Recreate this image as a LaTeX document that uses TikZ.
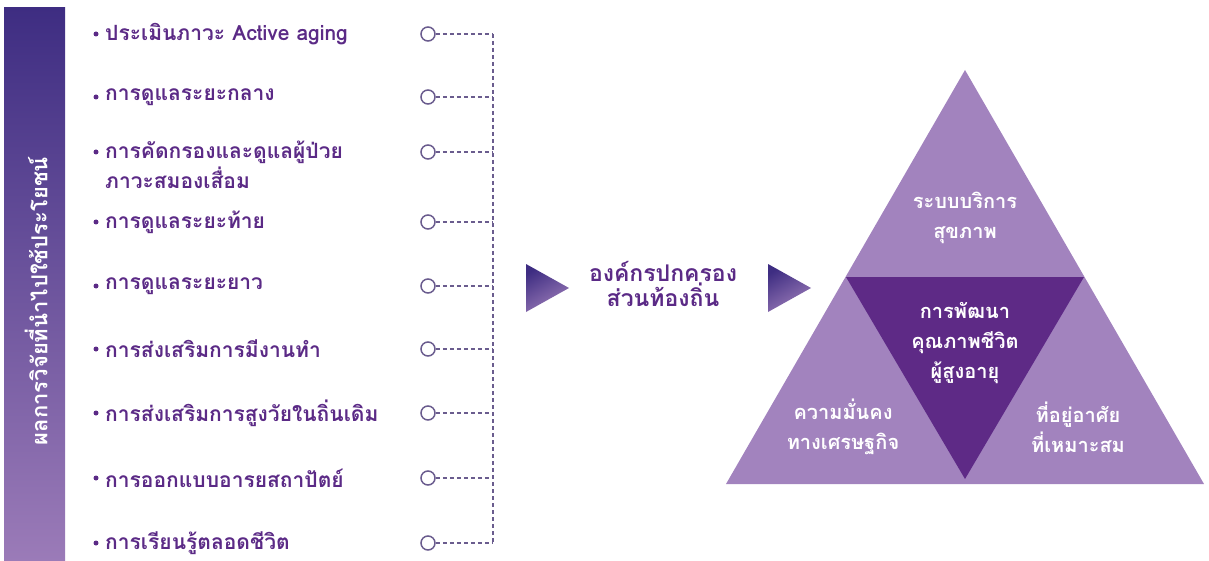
\documentclass[tikz,border=0pt]{standalone}
\usepackage{fontspec}
\newfontfamily\thai[Script=Thai]{Loma}
\usetikzlibrary{calc}
\definecolor{txtpurple}{HTML}{5B2A86}
\definecolor{bartop}{HTML}{3E2D82}
\definecolor{barbot}{HTML}{9B7BB8}
\definecolor{lightpur}{HTML}{A283BE}
\definecolor{darkpur}{HTML}{5E2A86}
\definecolor{dashcol}{HTML}{6A5C8E}
\tikzset{
  item/.style={anchor=west, font=\thai\bfseries\fontsize{21}{25}\selectfont, text=txtpurple, inner sep=0pt, align=left},
  dot/.style={circle, fill=txtpurple, inner sep=0pt, minimum size=5pt},
  ring/.style={circle, draw=dashcol, line width=1.5pt, inner sep=0pt, minimum size=14pt},
  dashc/.style={draw=dashcol, line width=1.2pt, dash pattern=on 4pt off 3pt},
  tri/.style={font=\thai\bfseries\fontsize{20}{30}\selectfont, text=white, align=center, inner sep=0pt},
  mid/.style={font=\thai\bfseries\fontsize{23}{23}\selectfont, text=txtpurple, align=center, inner sep=0pt}
}
\begin{document}
\begin{tikzpicture}[x=1pt,y=-1pt]
\useasboundingbox (0,0) rectangle (1209,561);
% left bar
\shade[top color=bartop, bottom color=barbot] (4,8) rectangle (65,561);
\node[rotate=90, font=\thai\bfseries\fontsize{22}{24}\selectfont, text=white, inner sep=0pt] (bartxt) at (36,301) {ผลการวิจัยที่นำไปใช้ประโยชน์};
% items
\foreach \i/\y/\t in {1/34/{ประเมินภาวะ Active aging},2/97/{การดูแลระยะกลาง},3/152/{การคัดกรองและดูแลผู้ป่วย},4/222/{การดูแลระยะท้าย},5/286/{การดูแลระยะยาว},6/349/{การส่งเสริมการมีงานทำ},7/413/{การส่งเสริมการสูงวัยในถิ่นเดิม},8/478/{การออกแบบอารยสถาปัตย์},9/543/{การเรียนรู้ตลอดชีวิต}}{
  \node[dot] (b\i) at (96,\y) {};
  \node[item] (t\i) at (105,\y) {\t};
  \node[ring] (r\i) at (428,\y) {};
  \coordinate (j\i) at (493,\y);
  \draw[dashc] (r\i.east) -- (j\i);
}
\node[item] (t3b) at (105,178) {ภาวะสมองเสื่อม};
\draw[dashc] (j1) -- (j9);
% arrows
\shade[top color=bartop, bottom color=barbot, shading angle=30] (526,264) -- (569,288) -- (526,312) -- cycle;
\shade[top color=bartop, bottom color=barbot, shading angle=30] (768,264) -- (811,288) -- (768,312) -- cycle;
\node[mid] (org) at (663,284) {องค์กรปกครอง\\ส่วนท้องถิ่น};
% pyramid
\coordinate (A) at (965,70);
\coordinate (B) at (726,484);
\coordinate (C) at (1204,484);
\fill[lightpur] (A) -- (B) -- (C) -- cycle;
\coordinate (P) at (846,277);
\coordinate (Q) at (1084,277);
\coordinate (R) at (965,479);
\fill[darkpur] (P) -- (Q) -- (R) -- cycle;
\node[tri] (health) at (965,218) {ระบบบริการ\\สุขภาพ};
\node[tri] (core) at (965,343) {การพัฒนา\\คุณภาพชีวิต\\ผู้สูงอายุ};
\node[tri] (econ) at (843,427) {ความมั่นคง\\ทางเศรษฐกิจ};
\node[tri] (home) at (1078,427) {ที่อยู่อาศัย\\ที่เหมาะสม};
\end{tikzpicture}
\end{document}
